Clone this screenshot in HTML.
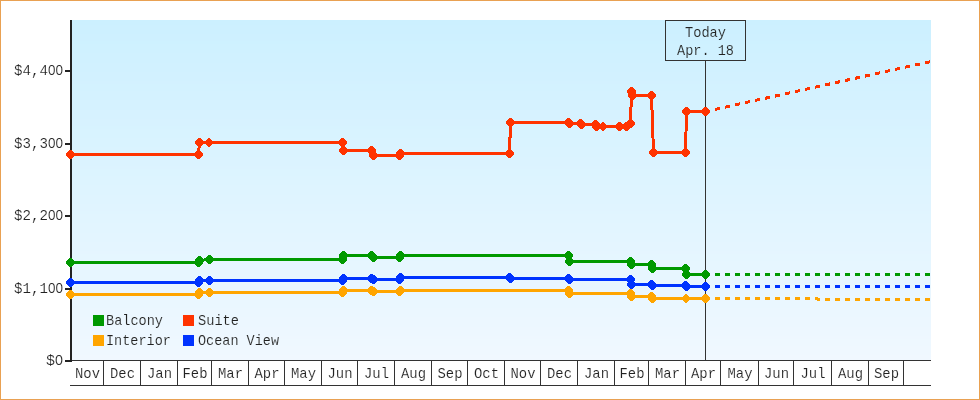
<!DOCTYPE html>
<html><head><meta charset="utf-8"><style>
html,body{margin:0;padding:0;background:#fff;}
#wrap{position:relative;width:980px;height:400px;overflow:hidden;background:#fff;}
#frame{position:absolute;left:0;top:0;width:978px;height:398px;border:1px solid #e9a152;}
svg{position:absolute;left:0;top:0;will-change:transform;}
text{font-family:"Liberation Mono", monospace;fill:#222;}
</style></head><body><div id="wrap"><div id="frame"></div>
<svg width="980" height="400" viewBox="0 0 980 400">
<g shape-rendering="crispEdges"><rect x="72" y="20" width="859" height="5" fill="#ccf0ff"/><rect x="72" y="25" width="859" height="9" fill="#cdf0ff"/><rect x="72" y="34" width="859" height="7" fill="#cef0ff"/><rect x="72" y="41" width="859" height="3" fill="#cef1ff"/><rect x="72" y="44" width="859" height="9" fill="#cff1ff"/><rect x="72" y="53" width="859" height="10" fill="#d0f1ff"/><rect x="72" y="63" width="859" height="9" fill="#d1f1ff"/><rect x="72" y="72" width="859" height="9" fill="#d2f1ff"/><rect x="72" y="81" width="859" height="3" fill="#d3f1ff"/><rect x="72" y="84" width="859" height="7" fill="#d3f2ff"/><rect x="72" y="91" width="859" height="9" fill="#d4f2ff"/><rect x="72" y="100" width="859" height="10" fill="#d5f2ff"/><rect x="72" y="110" width="859" height="9" fill="#d6f2ff"/><rect x="72" y="119" width="859" height="7" fill="#d7f2ff"/><rect x="72" y="126" width="859" height="3" fill="#d7f3ff"/><rect x="72" y="129" width="859" height="9" fill="#d8f3ff"/><rect x="72" y="138" width="859" height="9" fill="#d9f3ff"/><rect x="72" y="147" width="859" height="10" fill="#daf3ff"/><rect x="72" y="157" width="859" height="9" fill="#dbf3ff"/><rect x="72" y="166" width="859" height="3" fill="#dcf3ff"/><rect x="72" y="169" width="859" height="7" fill="#dcf4ff"/><rect x="72" y="176" width="859" height="9" fill="#ddf4ff"/><rect x="72" y="185" width="859" height="10" fill="#def4ff"/><rect x="72" y="195" width="859" height="9" fill="#dff4ff"/><rect x="72" y="204" width="859" height="7" fill="#e0f4ff"/><rect x="72" y="211" width="859" height="3" fill="#e0f5ff"/><rect x="72" y="214" width="859" height="9" fill="#e1f5ff"/><rect x="72" y="223" width="859" height="10" fill="#e2f5ff"/><rect x="72" y="233" width="859" height="9" fill="#e3f5ff"/><rect x="72" y="242" width="859" height="9" fill="#e4f5ff"/><rect x="72" y="251" width="859" height="3" fill="#e5f5ff"/><rect x="72" y="254" width="859" height="7" fill="#e5f6ff"/><rect x="72" y="261" width="859" height="9" fill="#e6f6ff"/><rect x="72" y="270" width="859" height="10" fill="#e7f6ff"/><rect x="72" y="280" width="859" height="9" fill="#e8f6ff"/><rect x="72" y="289" width="859" height="7" fill="#e9f6ff"/><rect x="72" y="296" width="859" height="3" fill="#e9f7ff"/><rect x="72" y="299" width="859" height="9" fill="#eaf7ff"/><rect x="72" y="308" width="859" height="9" fill="#ebf7ff"/><rect x="72" y="317" width="859" height="10" fill="#ecf7ff"/><rect x="72" y="327" width="859" height="9" fill="#edf7ff"/><rect x="72" y="336" width="859" height="3" fill="#eef7ff"/><rect x="72" y="339" width="859" height="7" fill="#eef8ff"/><rect x="72" y="346" width="859" height="9" fill="#eff8ff"/><rect x="72" y="355" width="859" height="5" fill="#f0f8ff"/></g>
<g shape-rendering="crispEdges">
<rect x="72" y="360" width="859" height="1" fill="#333"/>
<rect x="70" y="385" width="861" height="1" fill="#333"/>
<rect x="103" y="361" width="1" height="24" fill="#333"/>
<rect x="140" y="361" width="1" height="24" fill="#333"/>
<rect x="177" y="361" width="1" height="24" fill="#333"/>
<rect x="211" y="361" width="1" height="24" fill="#333"/>
<rect x="248" y="361" width="1" height="24" fill="#333"/>
<rect x="284" y="361" width="1" height="24" fill="#333"/>
<rect x="321" y="361" width="1" height="24" fill="#333"/>
<rect x="357" y="361" width="1" height="24" fill="#333"/>
<rect x="394" y="361" width="1" height="24" fill="#333"/>
<rect x="431" y="361" width="1" height="24" fill="#333"/>
<rect x="467" y="361" width="1" height="24" fill="#333"/>
<rect x="504" y="361" width="1" height="24" fill="#333"/>
<rect x="540" y="361" width="1" height="24" fill="#333"/>
<rect x="577" y="361" width="1" height="24" fill="#333"/>
<rect x="614" y="361" width="1" height="24" fill="#333"/>
<rect x="648" y="361" width="1" height="24" fill="#333"/>
<rect x="685" y="361" width="1" height="24" fill="#333"/>
<rect x="720" y="361" width="1" height="24" fill="#333"/>
<rect x="758" y="361" width="1" height="24" fill="#333"/>
<rect x="793" y="361" width="1" height="24" fill="#333"/>
<rect x="831" y="361" width="1" height="24" fill="#333"/>
<rect x="868" y="361" width="1" height="24" fill="#333"/>
<rect x="903" y="361" width="1" height="24" fill="#333"/>
</g>
<text x="87.5" y="378" font-size="15" text-anchor="middle" textLength="25" lengthAdjust="spacingAndGlyphs" stroke="#fff" stroke-width="0.15">Nov</text>
<text x="122.5" y="378" font-size="15" text-anchor="middle" textLength="25" lengthAdjust="spacingAndGlyphs" stroke="#fff" stroke-width="0.15">Dec</text>
<text x="159.5" y="378" font-size="15" text-anchor="middle" textLength="25" lengthAdjust="spacingAndGlyphs" stroke="#fff" stroke-width="0.15">Jan</text>
<text x="195.0" y="378" font-size="15" text-anchor="middle" textLength="25" lengthAdjust="spacingAndGlyphs" stroke="#fff" stroke-width="0.15">Feb</text>
<text x="230.5" y="378" font-size="15" text-anchor="middle" textLength="25" lengthAdjust="spacingAndGlyphs" stroke="#fff" stroke-width="0.15">Mar</text>
<text x="267.0" y="378" font-size="15" text-anchor="middle" textLength="25" lengthAdjust="spacingAndGlyphs" stroke="#fff" stroke-width="0.15">Apr</text>
<text x="303.5" y="378" font-size="15" text-anchor="middle" textLength="25" lengthAdjust="spacingAndGlyphs" stroke="#fff" stroke-width="0.15">May</text>
<text x="340.0" y="378" font-size="15" text-anchor="middle" textLength="25" lengthAdjust="spacingAndGlyphs" stroke="#fff" stroke-width="0.15">Jun</text>
<text x="376.5" y="378" font-size="15" text-anchor="middle" textLength="25" lengthAdjust="spacingAndGlyphs" stroke="#fff" stroke-width="0.15">Jul</text>
<text x="413.5" y="378" font-size="15" text-anchor="middle" textLength="25" lengthAdjust="spacingAndGlyphs" stroke="#fff" stroke-width="0.15">Aug</text>
<text x="450.0" y="378" font-size="15" text-anchor="middle" textLength="25" lengthAdjust="spacingAndGlyphs" stroke="#fff" stroke-width="0.15">Sep</text>
<text x="486.5" y="378" font-size="15" text-anchor="middle" textLength="25" lengthAdjust="spacingAndGlyphs" stroke="#fff" stroke-width="0.15">Oct</text>
<text x="523.0" y="378" font-size="15" text-anchor="middle" textLength="25" lengthAdjust="spacingAndGlyphs" stroke="#fff" stroke-width="0.15">Nov</text>
<text x="559.5" y="378" font-size="15" text-anchor="middle" textLength="25" lengthAdjust="spacingAndGlyphs" stroke="#fff" stroke-width="0.15">Dec</text>
<text x="596.5" y="378" font-size="15" text-anchor="middle" textLength="25" lengthAdjust="spacingAndGlyphs" stroke="#fff" stroke-width="0.15">Jan</text>
<text x="632.0" y="378" font-size="15" text-anchor="middle" textLength="25" lengthAdjust="spacingAndGlyphs" stroke="#fff" stroke-width="0.15">Feb</text>
<text x="667.5" y="378" font-size="15" text-anchor="middle" textLength="25" lengthAdjust="spacingAndGlyphs" stroke="#fff" stroke-width="0.15">Mar</text>
<text x="703.5" y="378" font-size="15" text-anchor="middle" textLength="25" lengthAdjust="spacingAndGlyphs" stroke="#fff" stroke-width="0.15">Apr</text>
<text x="740.0" y="378" font-size="15" text-anchor="middle" textLength="25" lengthAdjust="spacingAndGlyphs" stroke="#fff" stroke-width="0.15">May</text>
<text x="776.5" y="378" font-size="15" text-anchor="middle" textLength="25" lengthAdjust="spacingAndGlyphs" stroke="#fff" stroke-width="0.15">Jun</text>
<text x="813.0" y="378" font-size="15" text-anchor="middle" textLength="25" lengthAdjust="spacingAndGlyphs" stroke="#fff" stroke-width="0.15">Jul</text>
<text x="850.5" y="378" font-size="15" text-anchor="middle" textLength="25" lengthAdjust="spacingAndGlyphs" stroke="#fff" stroke-width="0.15">Aug</text>
<text x="886.5" y="378" font-size="15" text-anchor="middle" textLength="25" lengthAdjust="spacingAndGlyphs" stroke="#fff" stroke-width="0.15">Sep</text>
<g shape-rendering="crispEdges">
<rect x="70" y="20" width="2" height="342" fill="#222"/>
<rect x="65" y="70" width="6" height="2" fill="#222"/>
<rect x="65" y="143" width="6" height="2" fill="#222"/>
<rect x="65" y="215" width="6" height="2" fill="#222"/>
<rect x="65" y="288" width="6" height="2" fill="#222"/>
<rect x="65" y="360" width="6" height="2" fill="#222"/>
</g>
<text x="63" y="75" font-size="15" text-anchor="end" textLength="49" lengthAdjust="spacingAndGlyphs" stroke="#fff" stroke-width="0.15">$4,4<tspan style="font-family:'Liberation Sans'" font-size="14.3">0</tspan><tspan style="font-family:'Liberation Sans'" font-size="14.3">0</tspan></text>
<text x="63" y="148" font-size="15" text-anchor="end" textLength="49" lengthAdjust="spacingAndGlyphs" stroke="#fff" stroke-width="0.15">$3,3<tspan style="font-family:'Liberation Sans'" font-size="14.3">0</tspan><tspan style="font-family:'Liberation Sans'" font-size="14.3">0</tspan></text>
<text x="63" y="220" font-size="15" text-anchor="end" textLength="49" lengthAdjust="spacingAndGlyphs" stroke="#fff" stroke-width="0.15">$2,2<tspan style="font-family:'Liberation Sans'" font-size="14.3">0</tspan><tspan style="font-family:'Liberation Sans'" font-size="14.3">0</tspan></text>
<text x="63" y="293" font-size="15" text-anchor="end" textLength="49" lengthAdjust="spacingAndGlyphs" stroke="#fff" stroke-width="0.15">$1,1<tspan style="font-family:'Liberation Sans'" font-size="14.3">0</tspan><tspan style="font-family:'Liberation Sans'" font-size="14.3">0</tspan></text>
<text x="63" y="365" font-size="15" text-anchor="end" textLength="17" lengthAdjust="spacingAndGlyphs" stroke="#fff" stroke-width="0.15">$<tspan style="font-family:'Liberation Sans'" font-size="14.3">0</tspan></text>
<g shape-rendering="crispEdges"><rect x="705" y="61" width="1" height="299" fill="#333"/><rect x="665.5" y="20.5" width="80" height="40" fill="none" stroke="#333" stroke-width="1"/></g>
<text x="705.5" y="37" font-size="15" text-anchor="middle" textLength="41" lengthAdjust="spacingAndGlyphs" stroke="#cdf0ff" stroke-width="0.15">Today</text>
<text x="705.5" y="55" font-size="15" text-anchor="middle" textLength="57" lengthAdjust="spacingAndGlyphs" stroke="#cff1ff" stroke-width="0.15">Apr.&#160;18</text>
<rect x="93" y="315" width="11" height="11" fill="#009900" shape-rendering="crispEdges"/>
<text x="106" y="325" font-size="15" text-anchor="start" textLength="57" lengthAdjust="spacingAndGlyphs" stroke="#ecf7ff" stroke-width="0.15">Balcony</text>
<rect x="183" y="315" width="11" height="11" fill="#ff3300" shape-rendering="crispEdges"/>
<text x="198" y="325" font-size="15" text-anchor="start" textLength="41" lengthAdjust="spacingAndGlyphs" stroke="#ecf7ff" stroke-width="0.15">Suite</text>
<rect x="93" y="335" width="11" height="11" fill="#ffa500" shape-rendering="crispEdges"/>
<text x="106" y="345" font-size="15" text-anchor="start" textLength="65" lengthAdjust="spacingAndGlyphs" stroke="#eef8ff" stroke-width="0.15">Interior</text>
<rect x="183" y="335" width="11" height="11" fill="#0033ff" shape-rendering="crispEdges"/>
<text x="198" y="345" font-size="15" text-anchor="start" textLength="81" lengthAdjust="spacingAndGlyphs" stroke="#eef8ff" stroke-width="0.15">Ocean&#160;View</text>
<g shape-rendering="crispEdges">
<line x1="715" y1="274.50" x2="720" y2="274.50" stroke="#009900" stroke-width="3"/>
<line x1="725" y1="274.50" x2="730" y2="274.50" stroke="#009900" stroke-width="3"/>
<line x1="735" y1="274.50" x2="740" y2="274.50" stroke="#009900" stroke-width="3"/>
<line x1="745" y1="274.50" x2="750" y2="274.50" stroke="#009900" stroke-width="3"/>
<line x1="755" y1="274.50" x2="760" y2="274.50" stroke="#009900" stroke-width="3"/>
<line x1="765" y1="274.50" x2="770" y2="274.50" stroke="#009900" stroke-width="3"/>
<line x1="775" y1="274.50" x2="780" y2="274.50" stroke="#009900" stroke-width="3"/>
<line x1="785" y1="274.50" x2="790" y2="274.50" stroke="#009900" stroke-width="3"/>
<line x1="795" y1="274.50" x2="800" y2="274.50" stroke="#009900" stroke-width="3"/>
<line x1="805" y1="274.50" x2="810" y2="274.50" stroke="#009900" stroke-width="3"/>
<line x1="815" y1="274.50" x2="820" y2="274.50" stroke="#009900" stroke-width="3"/>
<line x1="825" y1="274.50" x2="830" y2="274.50" stroke="#009900" stroke-width="3"/>
<line x1="835" y1="274.50" x2="840" y2="274.50" stroke="#009900" stroke-width="3"/>
<line x1="845" y1="274.50" x2="850" y2="274.50" stroke="#009900" stroke-width="3"/>
<line x1="855" y1="274.50" x2="860" y2="274.50" stroke="#009900" stroke-width="3"/>
<line x1="865" y1="274.50" x2="870" y2="274.50" stroke="#009900" stroke-width="3"/>
<line x1="875" y1="274.50" x2="880" y2="274.50" stroke="#009900" stroke-width="3"/>
<line x1="885" y1="274.50" x2="890" y2="274.50" stroke="#009900" stroke-width="3"/>
<line x1="895" y1="274.50" x2="900" y2="274.50" stroke="#009900" stroke-width="3"/>
<line x1="905" y1="274.50" x2="910" y2="274.50" stroke="#009900" stroke-width="3"/>
<line x1="915" y1="274.50" x2="920" y2="274.50" stroke="#009900" stroke-width="3"/>
<line x1="925" y1="274.50" x2="930" y2="274.50" stroke="#009900" stroke-width="3"/>
<line x1="715" y1="286.50" x2="720" y2="286.50" stroke="#0033ff" stroke-width="3"/>
<line x1="725" y1="286.50" x2="730" y2="286.50" stroke="#0033ff" stroke-width="3"/>
<line x1="735" y1="286.50" x2="740" y2="286.50" stroke="#0033ff" stroke-width="3"/>
<line x1="745" y1="286.50" x2="750" y2="286.50" stroke="#0033ff" stroke-width="3"/>
<line x1="755" y1="286.50" x2="760" y2="286.50" stroke="#0033ff" stroke-width="3"/>
<line x1="765" y1="286.50" x2="770" y2="286.50" stroke="#0033ff" stroke-width="3"/>
<line x1="775" y1="286.50" x2="780" y2="286.50" stroke="#0033ff" stroke-width="3"/>
<line x1="785" y1="286.50" x2="790" y2="286.50" stroke="#0033ff" stroke-width="3"/>
<line x1="795" y1="286.50" x2="800" y2="286.50" stroke="#0033ff" stroke-width="3"/>
<line x1="805" y1="286.50" x2="810" y2="286.50" stroke="#0033ff" stroke-width="3"/>
<line x1="815" y1="286.50" x2="820" y2="286.50" stroke="#0033ff" stroke-width="3"/>
<line x1="825" y1="286.50" x2="830" y2="286.50" stroke="#0033ff" stroke-width="3"/>
<line x1="835" y1="286.50" x2="840" y2="286.50" stroke="#0033ff" stroke-width="3"/>
<line x1="845" y1="286.50" x2="850" y2="286.50" stroke="#0033ff" stroke-width="3"/>
<line x1="855" y1="286.50" x2="860" y2="286.50" stroke="#0033ff" stroke-width="3"/>
<line x1="865" y1="286.50" x2="870" y2="286.50" stroke="#0033ff" stroke-width="3"/>
<line x1="875" y1="286.50" x2="880" y2="286.50" stroke="#0033ff" stroke-width="3"/>
<line x1="885" y1="286.50" x2="890" y2="286.50" stroke="#0033ff" stroke-width="3"/>
<line x1="895" y1="286.50" x2="900" y2="286.50" stroke="#0033ff" stroke-width="3"/>
<line x1="905" y1="286.50" x2="910" y2="286.50" stroke="#0033ff" stroke-width="3"/>
<line x1="915" y1="286.50" x2="920" y2="286.50" stroke="#0033ff" stroke-width="3"/>
<line x1="925" y1="286.50" x2="930" y2="286.50" stroke="#0033ff" stroke-width="3"/>
<line x1="715" y1="298.50" x2="720" y2="298.50" stroke="#ffa500" stroke-width="3"/>
<line x1="725" y1="298.50" x2="730" y2="298.50" stroke="#ffa500" stroke-width="3"/>
<line x1="735" y1="298.50" x2="740" y2="298.50" stroke="#ffa500" stroke-width="3"/>
<line x1="745" y1="298.50" x2="750" y2="298.50" stroke="#ffa500" stroke-width="3"/>
<line x1="755" y1="298.50" x2="760" y2="298.50" stroke="#ffa500" stroke-width="3"/>
<line x1="765" y1="298.50" x2="770" y2="298.50" stroke="#ffa500" stroke-width="3"/>
<line x1="775" y1="298.50" x2="780" y2="298.50" stroke="#ffa500" stroke-width="3"/>
<line x1="785" y1="298.50" x2="790" y2="298.50" stroke="#ffa500" stroke-width="3"/>
<line x1="795" y1="298.50" x2="800" y2="298.50" stroke="#ffa500" stroke-width="3"/>
<line x1="805" y1="298.50" x2="810" y2="298.50" stroke="#ffa500" stroke-width="3"/>
<line x1="815" y1="298.50" x2="820" y2="299.50" stroke="#ffa500" stroke-width="3"/>
<line x1="825" y1="299.50" x2="830" y2="299.50" stroke="#ffa500" stroke-width="3"/>
<line x1="835" y1="299.50" x2="840" y2="299.50" stroke="#ffa500" stroke-width="3"/>
<line x1="845" y1="299.50" x2="850" y2="299.50" stroke="#ffa500" stroke-width="3"/>
<line x1="855" y1="299.50" x2="860" y2="299.50" stroke="#ffa500" stroke-width="3"/>
<line x1="865" y1="299.50" x2="870" y2="299.50" stroke="#ffa500" stroke-width="3"/>
<line x1="875" y1="299.50" x2="880" y2="299.50" stroke="#ffa500" stroke-width="3"/>
<line x1="885" y1="299.50" x2="890" y2="299.50" stroke="#ffa500" stroke-width="3"/>
<line x1="895" y1="299.50" x2="900" y2="299.50" stroke="#ffa500" stroke-width="3"/>
<line x1="905" y1="299.50" x2="910" y2="299.50" stroke="#ffa500" stroke-width="3"/>
<line x1="915" y1="299.50" x2="920" y2="299.50" stroke="#ffa500" stroke-width="3"/>
<line x1="925" y1="299.50" x2="930" y2="299.50" stroke="#ffa500" stroke-width="3"/>
<line x1="715" y1="109.39" x2="720" y2="108.28" stroke="#ff3300" stroke-width="3"/>
<line x1="725" y1="107.18" x2="730" y2="106.07" stroke="#ff3300" stroke-width="3"/>
<line x1="735" y1="104.96" x2="740" y2="103.85" stroke="#ff3300" stroke-width="3"/>
<line x1="745" y1="102.74" x2="750" y2="101.63" stroke="#ff3300" stroke-width="3"/>
<line x1="755" y1="100.52" x2="760" y2="99.42" stroke="#ff3300" stroke-width="3"/>
<line x1="765" y1="98.31" x2="770" y2="97.20" stroke="#ff3300" stroke-width="3"/>
<line x1="775" y1="96.09" x2="780" y2="94.98" stroke="#ff3300" stroke-width="3"/>
<line x1="785" y1="93.87" x2="790" y2="92.76" stroke="#ff3300" stroke-width="3"/>
<line x1="795" y1="91.66" x2="800" y2="90.55" stroke="#ff3300" stroke-width="3"/>
<line x1="805" y1="89.44" x2="810" y2="88.33" stroke="#ff3300" stroke-width="3"/>
<line x1="815" y1="87.22" x2="820" y2="86.11" stroke="#ff3300" stroke-width="3"/>
<line x1="825" y1="85.00" x2="830" y2="83.89" stroke="#ff3300" stroke-width="3"/>
<line x1="835" y1="82.79" x2="840" y2="81.68" stroke="#ff3300" stroke-width="3"/>
<line x1="845" y1="80.57" x2="850" y2="79.46" stroke="#ff3300" stroke-width="3"/>
<line x1="855" y1="78.35" x2="860" y2="77.24" stroke="#ff3300" stroke-width="3"/>
<line x1="865" y1="76.13" x2="870" y2="75.03" stroke="#ff3300" stroke-width="3"/>
<line x1="875" y1="73.92" x2="880" y2="72.81" stroke="#ff3300" stroke-width="3"/>
<line x1="885" y1="71.70" x2="890" y2="70.59" stroke="#ff3300" stroke-width="3"/>
<line x1="895" y1="69.48" x2="900" y2="68.37" stroke="#ff3300" stroke-width="3"/>
<line x1="905" y1="67.26" x2="910" y2="66.16" stroke="#ff3300" stroke-width="3"/>
<line x1="915" y1="65.05" x2="920" y2="63.94" stroke="#ff3300" stroke-width="3"/>
<line x1="925" y1="62.83" x2="930" y2="61.72" stroke="#ff3300" stroke-width="3"/>
</g>
<g shape-rendering="crispEdges">
<polyline points="70.5,294.5 198.5,294.5 199.5,292.5 209.5,292.5 342.5,292.5 343.5,290.5 371.5,290.5 373.5,291.5 399.5,291.5 400.5,290.5 568.5,290.5 569.5,293.5 630.5,293.5 631.5,296.5 651.5,296.5 652.5,298.5 686,298.5 705.5,298.5" fill="none" stroke="#ffa500" stroke-width="3" stroke-linejoin="miter"/>
<polygon points="69.50,290.05 71.50,290.05 74.95,293.50 74.95,295.50 71.50,298.95 69.50,298.95 66.05,295.50 66.05,293.50" fill="#ffa500"/>
<polygon points="197.50,290.05 199.50,290.05 202.95,293.50 202.95,295.50 199.50,298.95 197.50,298.95 194.05,295.50 194.05,293.50" fill="#ffa500"/>
<polygon points="198.50,288.05 200.50,288.05 203.95,291.50 203.95,293.50 200.50,296.95 198.50,296.95 195.05,293.50 195.05,291.50" fill="#ffa500"/>
<polygon points="208.50,288.05 210.50,288.05 213.95,291.50 213.95,293.50 210.50,296.95 208.50,296.95 205.05,293.50 205.05,291.50" fill="#ffa500"/>
<polygon points="341.50,288.05 343.50,288.05 346.95,291.50 346.95,293.50 343.50,296.95 341.50,296.95 338.05,293.50 338.05,291.50" fill="#ffa500"/>
<polygon points="342.50,286.05 344.50,286.05 347.95,289.50 347.95,291.50 344.50,294.95 342.50,294.95 339.05,291.50 339.05,289.50" fill="#ffa500"/>
<polygon points="370.50,286.05 372.50,286.05 375.95,289.50 375.95,291.50 372.50,294.95 370.50,294.95 367.05,291.50 367.05,289.50" fill="#ffa500"/>
<polygon points="372.50,287.05 374.50,287.05 377.95,290.50 377.95,292.50 374.50,295.95 372.50,295.95 369.05,292.50 369.05,290.50" fill="#ffa500"/>
<polygon points="398.50,287.05 400.50,287.05 403.95,290.50 403.95,292.50 400.50,295.95 398.50,295.95 395.05,292.50 395.05,290.50" fill="#ffa500"/>
<polygon points="399.50,286.05 401.50,286.05 404.95,289.50 404.95,291.50 401.50,294.95 399.50,294.95 396.05,291.50 396.05,289.50" fill="#ffa500"/>
<polygon points="567.50,286.05 569.50,286.05 572.95,289.50 572.95,291.50 569.50,294.95 567.50,294.95 564.05,291.50 564.05,289.50" fill="#ffa500"/>
<polygon points="568.50,289.05 570.50,289.05 573.95,292.50 573.95,294.50 570.50,297.95 568.50,297.95 565.05,294.50 565.05,292.50" fill="#ffa500"/>
<polygon points="629.50,289.05 631.50,289.05 634.95,292.50 634.95,294.50 631.50,297.95 629.50,297.95 626.05,294.50 626.05,292.50" fill="#ffa500"/>
<polygon points="630.50,292.05 632.50,292.05 635.95,295.50 635.95,297.50 632.50,300.95 630.50,300.95 627.05,297.50 627.05,295.50" fill="#ffa500"/>
<polygon points="650.50,292.05 652.50,292.05 655.95,295.50 655.95,297.50 652.50,300.95 650.50,300.95 647.05,297.50 647.05,295.50" fill="#ffa500"/>
<polygon points="651.50,294.05 653.50,294.05 656.95,297.50 656.95,299.50 653.50,302.95 651.50,302.95 648.05,299.50 648.05,297.50" fill="#ffa500"/>
<polygon points="685.00,294.05 687.00,294.05 690.45,297.50 690.45,299.50 687.00,302.95 685.00,302.95 681.55,299.50 681.55,297.50" fill="#ffa500"/>
<polygon points="704.50,294.05 706.50,294.05 709.95,297.50 709.95,299.50 706.50,302.95 704.50,302.95 701.05,299.50 701.05,297.50" fill="#ffa500"/>
<polyline points="70.5,282.5 198.5,282.5 199.5,280.5 209.5,280.5 342.5,280.5 343.5,278.5 371.5,278.5 373.5,279.5 399.5,279.5 400.5,277.5 509.5,277.5 510.5,278.5 568.5,278.5 569.5,279.5 630.5,279.5 631.5,284.5 651.5,284.5 652.5,285.5 685.5,285.5 686.5,286.5 705.5,286.5" fill="none" stroke="#0033ff" stroke-width="3" stroke-linejoin="miter"/>
<polygon points="69.50,278.05 71.50,278.05 74.95,281.50 74.95,283.50 71.50,286.95 69.50,286.95 66.05,283.50 66.05,281.50" fill="#0033ff"/>
<polygon points="197.50,278.05 199.50,278.05 202.95,281.50 202.95,283.50 199.50,286.95 197.50,286.95 194.05,283.50 194.05,281.50" fill="#0033ff"/>
<polygon points="198.50,276.05 200.50,276.05 203.95,279.50 203.95,281.50 200.50,284.95 198.50,284.95 195.05,281.50 195.05,279.50" fill="#0033ff"/>
<polygon points="208.50,276.05 210.50,276.05 213.95,279.50 213.95,281.50 210.50,284.95 208.50,284.95 205.05,281.50 205.05,279.50" fill="#0033ff"/>
<polygon points="341.50,276.05 343.50,276.05 346.95,279.50 346.95,281.50 343.50,284.95 341.50,284.95 338.05,281.50 338.05,279.50" fill="#0033ff"/>
<polygon points="342.50,274.05 344.50,274.05 347.95,277.50 347.95,279.50 344.50,282.95 342.50,282.95 339.05,279.50 339.05,277.50" fill="#0033ff"/>
<polygon points="370.50,274.05 372.50,274.05 375.95,277.50 375.95,279.50 372.50,282.95 370.50,282.95 367.05,279.50 367.05,277.50" fill="#0033ff"/>
<polygon points="372.50,275.05 374.50,275.05 377.95,278.50 377.95,280.50 374.50,283.95 372.50,283.95 369.05,280.50 369.05,278.50" fill="#0033ff"/>
<polygon points="398.50,275.05 400.50,275.05 403.95,278.50 403.95,280.50 400.50,283.95 398.50,283.95 395.05,280.50 395.05,278.50" fill="#0033ff"/>
<polygon points="399.50,273.05 401.50,273.05 404.95,276.50 404.95,278.50 401.50,281.95 399.50,281.95 396.05,278.50 396.05,276.50" fill="#0033ff"/>
<polygon points="508.50,273.05 510.50,273.05 513.95,276.50 513.95,278.50 510.50,281.95 508.50,281.95 505.05,278.50 505.05,276.50" fill="#0033ff"/>
<polygon points="509.50,274.05 511.50,274.05 514.95,277.50 514.95,279.50 511.50,282.95 509.50,282.95 506.05,279.50 506.05,277.50" fill="#0033ff"/>
<polygon points="567.50,274.05 569.50,274.05 572.95,277.50 572.95,279.50 569.50,282.95 567.50,282.95 564.05,279.50 564.05,277.50" fill="#0033ff"/>
<polygon points="568.50,275.05 570.50,275.05 573.95,278.50 573.95,280.50 570.50,283.95 568.50,283.95 565.05,280.50 565.05,278.50" fill="#0033ff"/>
<polygon points="629.50,275.05 631.50,275.05 634.95,278.50 634.95,280.50 631.50,283.95 629.50,283.95 626.05,280.50 626.05,278.50" fill="#0033ff"/>
<polygon points="630.50,280.05 632.50,280.05 635.95,283.50 635.95,285.50 632.50,288.95 630.50,288.95 627.05,285.50 627.05,283.50" fill="#0033ff"/>
<polygon points="650.50,280.05 652.50,280.05 655.95,283.50 655.95,285.50 652.50,288.95 650.50,288.95 647.05,285.50 647.05,283.50" fill="#0033ff"/>
<polygon points="651.50,281.05 653.50,281.05 656.95,284.50 656.95,286.50 653.50,289.95 651.50,289.95 648.05,286.50 648.05,284.50" fill="#0033ff"/>
<polygon points="684.50,281.05 686.50,281.05 689.95,284.50 689.95,286.50 686.50,289.95 684.50,289.95 681.05,286.50 681.05,284.50" fill="#0033ff"/>
<polygon points="685.50,282.05 687.50,282.05 690.95,285.50 690.95,287.50 687.50,290.95 685.50,290.95 682.05,287.50 682.05,285.50" fill="#0033ff"/>
<polygon points="704.50,282.05 706.50,282.05 709.95,285.50 709.95,287.50 706.50,290.95 704.50,290.95 701.05,287.50 701.05,285.50" fill="#0033ff"/>
<polyline points="70.5,262.5 198.5,262.5 199.5,260.5 209.5,259.5 342.5,259.5 343.5,255.5 371.5,255.5 373.5,257.5 399.5,257.5 400.5,255.5 568.5,255.5 569.5,261.5 630.5,261.5 631.5,264.5 651.5,264.5 652.5,268.5 685.5,268.5 686.5,274.5 705.5,274.5" fill="none" stroke="#009900" stroke-width="3" stroke-linejoin="miter"/>
<polygon points="69.50,258.05 71.50,258.05 74.95,261.50 74.95,263.50 71.50,266.95 69.50,266.95 66.05,263.50 66.05,261.50" fill="#009900"/>
<polygon points="197.50,258.05 199.50,258.05 202.95,261.50 202.95,263.50 199.50,266.95 197.50,266.95 194.05,263.50 194.05,261.50" fill="#009900"/>
<polygon points="198.50,256.05 200.50,256.05 203.95,259.50 203.95,261.50 200.50,264.95 198.50,264.95 195.05,261.50 195.05,259.50" fill="#009900"/>
<polygon points="208.50,255.05 210.50,255.05 213.95,258.50 213.95,260.50 210.50,263.95 208.50,263.95 205.05,260.50 205.05,258.50" fill="#009900"/>
<polygon points="341.50,255.05 343.50,255.05 346.95,258.50 346.95,260.50 343.50,263.95 341.50,263.95 338.05,260.50 338.05,258.50" fill="#009900"/>
<polygon points="342.50,251.05 344.50,251.05 347.95,254.50 347.95,256.50 344.50,259.95 342.50,259.95 339.05,256.50 339.05,254.50" fill="#009900"/>
<polygon points="370.50,251.05 372.50,251.05 375.95,254.50 375.95,256.50 372.50,259.95 370.50,259.95 367.05,256.50 367.05,254.50" fill="#009900"/>
<polygon points="372.50,253.05 374.50,253.05 377.95,256.50 377.95,258.50 374.50,261.95 372.50,261.95 369.05,258.50 369.05,256.50" fill="#009900"/>
<polygon points="398.50,253.05 400.50,253.05 403.95,256.50 403.95,258.50 400.50,261.95 398.50,261.95 395.05,258.50 395.05,256.50" fill="#009900"/>
<polygon points="399.50,251.05 401.50,251.05 404.95,254.50 404.95,256.50 401.50,259.95 399.50,259.95 396.05,256.50 396.05,254.50" fill="#009900"/>
<polygon points="567.50,251.05 569.50,251.05 572.95,254.50 572.95,256.50 569.50,259.95 567.50,259.95 564.05,256.50 564.05,254.50" fill="#009900"/>
<polygon points="568.50,257.05 570.50,257.05 573.95,260.50 573.95,262.50 570.50,265.95 568.50,265.95 565.05,262.50 565.05,260.50" fill="#009900"/>
<polygon points="629.50,257.05 631.50,257.05 634.95,260.50 634.95,262.50 631.50,265.95 629.50,265.95 626.05,262.50 626.05,260.50" fill="#009900"/>
<polygon points="630.50,260.05 632.50,260.05 635.95,263.50 635.95,265.50 632.50,268.95 630.50,268.95 627.05,265.50 627.05,263.50" fill="#009900"/>
<polygon points="650.50,260.05 652.50,260.05 655.95,263.50 655.95,265.50 652.50,268.95 650.50,268.95 647.05,265.50 647.05,263.50" fill="#009900"/>
<polygon points="651.50,264.05 653.50,264.05 656.95,267.50 656.95,269.50 653.50,272.95 651.50,272.95 648.05,269.50 648.05,267.50" fill="#009900"/>
<polygon points="684.50,264.05 686.50,264.05 689.95,267.50 689.95,269.50 686.50,272.95 684.50,272.95 681.05,269.50 681.05,267.50" fill="#009900"/>
<polygon points="685.50,270.05 687.50,270.05 690.95,273.50 690.95,275.50 687.50,278.95 685.50,278.95 682.05,275.50 682.05,273.50" fill="#009900"/>
<polygon points="704.50,270.05 706.50,270.05 709.95,273.50 709.95,275.50 706.50,278.95 704.50,278.95 701.05,275.50 701.05,273.50" fill="#009900"/>
<polyline points="70.5,154.5 198.5,154.5 199.5,142.5 209,142.5 342.5,142.5 343.5,150.5 371.5,150.5 373.5,155.5 399.5,155.5 400.5,153.5 509.5,153.5 510.5,122.5 568.5,122.5 569.5,123.5 580.5,123.5 581.5,124.5 595.5,124.5 596.5,126.5 603,126.5 619.5,126.5 626.5,126.5 630.5,123.5 631.5,91.5 632.5,95.5 651.5,95.5 653.5,152.5 685.5,152.5 686.5,111.5 705.5,111.5" fill="none" stroke="#ff3300" stroke-width="3" stroke-linejoin="miter"/>
<polygon points="69.50,150.05 71.50,150.05 74.95,153.50 74.95,155.50 71.50,158.95 69.50,158.95 66.05,155.50 66.05,153.50" fill="#ff3300"/>
<polygon points="197.50,150.05 199.50,150.05 202.95,153.50 202.95,155.50 199.50,158.95 197.50,158.95 194.05,155.50 194.05,153.50" fill="#ff3300"/>
<polygon points="198.50,138.05 200.50,138.05 203.95,141.50 203.95,143.50 200.50,146.95 198.50,146.95 195.05,143.50 195.05,141.50" fill="#ff3300"/>
<polygon points="208.00,138.05 210.00,138.05 213.45,141.50 213.45,143.50 210.00,146.95 208.00,146.95 204.55,143.50 204.55,141.50" fill="#ff3300"/>
<polygon points="341.50,138.05 343.50,138.05 346.95,141.50 346.95,143.50 343.50,146.95 341.50,146.95 338.05,143.50 338.05,141.50" fill="#ff3300"/>
<polygon points="342.50,146.05 344.50,146.05 347.95,149.50 347.95,151.50 344.50,154.95 342.50,154.95 339.05,151.50 339.05,149.50" fill="#ff3300"/>
<polygon points="370.50,146.05 372.50,146.05 375.95,149.50 375.95,151.50 372.50,154.95 370.50,154.95 367.05,151.50 367.05,149.50" fill="#ff3300"/>
<polygon points="372.50,151.05 374.50,151.05 377.95,154.50 377.95,156.50 374.50,159.95 372.50,159.95 369.05,156.50 369.05,154.50" fill="#ff3300"/>
<polygon points="398.50,151.05 400.50,151.05 403.95,154.50 403.95,156.50 400.50,159.95 398.50,159.95 395.05,156.50 395.05,154.50" fill="#ff3300"/>
<polygon points="399.50,149.05 401.50,149.05 404.95,152.50 404.95,154.50 401.50,157.95 399.50,157.95 396.05,154.50 396.05,152.50" fill="#ff3300"/>
<polygon points="508.50,149.05 510.50,149.05 513.95,152.50 513.95,154.50 510.50,157.95 508.50,157.95 505.05,154.50 505.05,152.50" fill="#ff3300"/>
<polygon points="509.50,118.05 511.50,118.05 514.95,121.50 514.95,123.50 511.50,126.95 509.50,126.95 506.05,123.50 506.05,121.50" fill="#ff3300"/>
<polygon points="567.50,118.05 569.50,118.05 572.95,121.50 572.95,123.50 569.50,126.95 567.50,126.95 564.05,123.50 564.05,121.50" fill="#ff3300"/>
<polygon points="568.50,119.05 570.50,119.05 573.95,122.50 573.95,124.50 570.50,127.95 568.50,127.95 565.05,124.50 565.05,122.50" fill="#ff3300"/>
<polygon points="579.50,119.05 581.50,119.05 584.95,122.50 584.95,124.50 581.50,127.95 579.50,127.95 576.05,124.50 576.05,122.50" fill="#ff3300"/>
<polygon points="580.50,120.05 582.50,120.05 585.95,123.50 585.95,125.50 582.50,128.95 580.50,128.95 577.05,125.50 577.05,123.50" fill="#ff3300"/>
<polygon points="594.50,120.05 596.50,120.05 599.95,123.50 599.95,125.50 596.50,128.95 594.50,128.95 591.05,125.50 591.05,123.50" fill="#ff3300"/>
<polygon points="595.50,122.05 597.50,122.05 600.95,125.50 600.95,127.50 597.50,130.95 595.50,130.95 592.05,127.50 592.05,125.50" fill="#ff3300"/>
<polygon points="602.00,122.05 604.00,122.05 607.45,125.50 607.45,127.50 604.00,130.95 602.00,130.95 598.55,127.50 598.55,125.50" fill="#ff3300"/>
<polygon points="618.50,122.05 620.50,122.05 623.95,125.50 623.95,127.50 620.50,130.95 618.50,130.95 615.05,127.50 615.05,125.50" fill="#ff3300"/>
<polygon points="625.50,122.05 627.50,122.05 630.95,125.50 630.95,127.50 627.50,130.95 625.50,130.95 622.05,127.50 622.05,125.50" fill="#ff3300"/>
<polygon points="629.50,119.05 631.50,119.05 634.95,122.50 634.95,124.50 631.50,127.95 629.50,127.95 626.05,124.50 626.05,122.50" fill="#ff3300"/>
<polygon points="630.50,87.05 632.50,87.05 635.95,90.50 635.95,92.50 632.50,95.95 630.50,95.95 627.05,92.50 627.05,90.50" fill="#ff3300"/>
<polygon points="631.50,91.05 633.50,91.05 636.95,94.50 636.95,96.50 633.50,99.95 631.50,99.95 628.05,96.50 628.05,94.50" fill="#ff3300"/>
<polygon points="650.50,91.05 652.50,91.05 655.95,94.50 655.95,96.50 652.50,99.95 650.50,99.95 647.05,96.50 647.05,94.50" fill="#ff3300"/>
<polygon points="652.50,148.05 654.50,148.05 657.95,151.50 657.95,153.50 654.50,156.95 652.50,156.95 649.05,153.50 649.05,151.50" fill="#ff3300"/>
<polygon points="684.50,148.05 686.50,148.05 689.95,151.50 689.95,153.50 686.50,156.95 684.50,156.95 681.05,153.50 681.05,151.50" fill="#ff3300"/>
<polygon points="685.50,107.05 687.50,107.05 690.95,110.50 690.95,112.50 687.50,115.95 685.50,115.95 682.05,112.50 682.05,110.50" fill="#ff3300"/>
<polygon points="704.50,107.05 706.50,107.05 709.95,110.50 709.95,112.50 706.50,115.95 704.50,115.95 701.05,112.50 701.05,110.50" fill="#ff3300"/>
</g>
</svg></div></body></html>
